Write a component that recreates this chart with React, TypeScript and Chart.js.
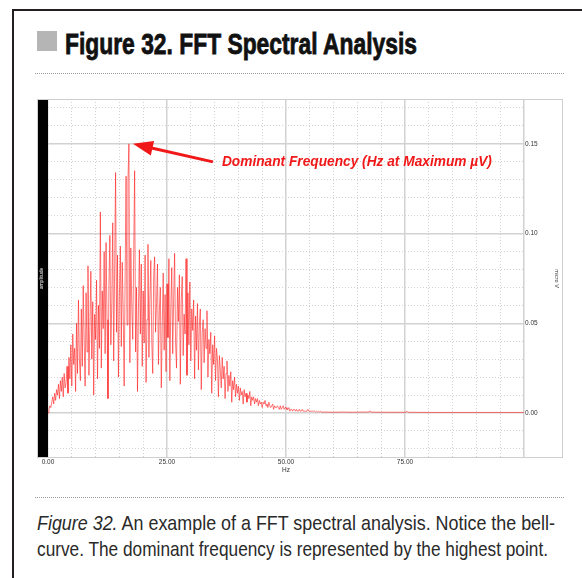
import React, { useEffect, useLayoutEffect, useRef } from "react";
import { Chart, registerables } from "chart.js";

Chart.register(...registerables);

// ---- data ----
const BIN_WIDTH_HZ = 0.2; // FFT bin spacing of the main spectrum array (0 .. 58 Hz)
const spectrumValues: number[] = [
  0.000, 0.002, 0.004, 0.003, 0.006,
  0.009, 0.005, 0.011, 0.007, 0.013,
  0.010, 0.016, 0.008, 0.018, 0.012,
  0.020, 0.009, 0.022, 0.014, 0.017,
  0.026, 0.011, 0.031, 0.019, 0.038,
  0.015, 0.044, 0.027, 0.036, 0.012,
  0.050, 0.022, 0.063, 0.030, 0.018,
  0.058, 0.026, 0.071, 0.040, 0.015,
  0.067, 0.034, 0.082, 0.021, 0.048,
  0.079, 0.030, 0.062, 0.010, 0.055,
  0.041, 0.074, 0.019, 0.060, 0.036,
  0.112, 0.025, 0.068, 0.047, 0.090,
  0.033, 0.095, 0.052, 0.008, 0.071,
  0.099, 0.038, 0.061, 0.106, 0.029,
  0.080, 0.134, 0.045, 0.088, 0.020,
  0.065, 0.093, 0.037, 0.084, 0.056,
  0.015, 0.076, 0.132, 0.049, 0.129,
  0.150, 0.028, 0.092, 0.060, 0.041,
  0.087, 0.135, 0.034, 0.070, 0.012,
  0.058, 0.091, 0.044, 0.083, 0.026,
  0.068, 0.039, 0.088, 0.017, 0.052,
  0.094, 0.031, 0.063, 0.085, 0.040,
  0.022, 0.076, 0.087, 0.045, 0.061,
  0.083, 0.027, 0.057, 0.070, 0.014,
  0.048, 0.078, 0.035, 0.066, 0.023,
  0.072, 0.042, 0.086, 0.018, 0.059,
  0.081, 0.033, 0.064, 0.089, 0.039,
  0.025, 0.070, 0.051, 0.077, 0.016,
  0.063, 0.076, 0.032, 0.055, 0.044,
  0.086, 0.021, 0.067, 0.038, 0.073,
  0.029, 0.058, 0.046, 0.063, 0.019,
  0.054, 0.035, 0.061, 0.024, 0.049,
  0.058, 0.013, 0.045, 0.052, 0.028,
  0.047, 0.036, 0.057, 0.020, 0.041,
  0.033, 0.045, 0.011, 0.038, 0.027,
  0.043, 0.018, 0.036, 0.030, 0.009,
  0.032, 0.024, 0.014, 0.031, 0.019,
  0.026, 0.008, 0.022, 0.029, 0.012,
  0.021, 0.015, 0.023, 0.006, 0.018,
  0.013, 0.020, 0.009, 0.016, 0.011,
  0.015, 0.007, 0.014, 0.010, 0.012,
  0.005, 0.013, 0.009, 0.011, 0.006,
  0.010, 0.008, 0.012, 0.004, 0.009,
  0.007, 0.009, 0.005, 0.008, 0.006,
  0.008, 0.004, 0.007, 0.005, 0.006,
  0.003, 0.006, 0.005, 0.007, 0.004,
  0.005, 0.003, 0.006, 0.004, 0.003,
  0.004, 0.005, 0.002, 0.004, 0.003,
  0.003, 0.004, 0.003, 0.002, 0.004,
  0.002, 0.003, 0.004, 0.002, 0.003,
  0.003, 0.002, 0.002, 0.003, 0.001,
  0.002, 0.002, 0.001, 0.002, 0.002,
  0.001, 0.002, 0.001, 0.001, 0.002,
  0.001, 0.001, 0.002, 0.001, 0.001,
  0.001, 0.001, 0.001, 0.002, 0.001,
  0.001, 0.001, 0.001, 0.001, 0.001,
  0.001, 0.0005, 0.001, 0.0005, 0.001,
  0.0005, 0.001, 0.0005, 0.0005, 0.0005,
  0.0005,
];
const tailHz: number[] = [60, 62, 64, 66, 67.4, 67.6, 67.8, 70, 72, 74, 75.2, 75.4, 75.6, 80, 85, 90, 95, 100];
const tailValues: number[] = [0.0004, 0.0005, 0.0004, 0.0005, 0.0005, 0.0012, 0.0005, 0.0004, 0.0004, 0.0004, 0.0004, 0.001, 0.0004, 0.0003, 0.0003, 0.0003, 0.0003, 0.0003];

const xTickValues = [0, 25, 50, 75];
const xTickLabels = ["0.00", "25.00", "50.00", "75.00"];
const yTickValues = [0, 0.05, 0.1, 0.15];
const yTickLabels = ["0.00", "0.05", "0.10", "0.15"];

const X_MIN = 0;
const X_MAX = 100;
const Y_MIN = -0.0251;
const Y_MAX = 0.175;

const ANNOTATION_TEXT = "Dominant Frequency (Hz at Maximum \u00b5V)";
const RED = "#f01818";

const GRID_COLOR = "#d2d2d2";
const isMultiple = (v: number, step: number) => Math.abs(v / step - Math.round(v / step)) < 1e-6;

const dominantArrow = {
  id: "dominantArrow",
  afterDatasetsDraw(chart: any) {
    const pts = chart.data.datasets[0].data as { x: number; y: number }[];
    let best = pts[0];
    for (const p of pts) if (p.y > best.y) best = p;
    const px = chart.scales.x.getPixelForValue(best.x);
    const py = chart.scales.y.getPixelForValue(best.y);
    const ctx = chart.ctx as CanvasRenderingContext2D;
    const tipX = px + 4, tipY = py;
    const tailX = px + 84, tailY = py + 18;
    const ang = Math.atan2(tipY - tailY, tipX - tailX);
    const headLen = 20, headHalf = 7.5;
    const baseX = tipX - headLen * Math.cos(ang);
    const baseY = tipY - headLen * Math.sin(ang);
    ctx.save();
    ctx.strokeStyle = RED;
    ctx.fillStyle = RED;
    ctx.lineWidth = 3;
    ctx.beginPath();
    ctx.moveTo(tailX, tailY);
    ctx.lineTo(baseX + 2 * Math.cos(ang), baseY + 2 * Math.sin(ang));
    ctx.stroke();
    ctx.beginPath();
    ctx.moveTo(tipX, tipY);
    ctx.lineTo(baseX + headHalf * Math.sin(ang), baseY - headHalf * Math.cos(ang));
    ctx.lineTo(baseX - headHalf * Math.sin(ang), baseY + headHalf * Math.cos(ang));
    ctx.closePath();
    ctx.fill();
    ctx.font = 'italic bold 15px "Liberation Sans", Arial, sans-serif';
    ctx.textBaseline = "alphabetic";
    ctx.textAlign = "left";
    const w = ctx.measureText(ANNOTATION_TEXT).width;
    ctx.translate(px + 93, py + 22);
    ctx.scale(270 / w, 1);
    ctx.fillText(ANNOTATION_TEXT, 0, 0);
    ctx.restore();
  },
};

const boxBorder = {
  id: "boxBorder",
  afterDraw(chart: any) {
    const { ctx, chartArea, width } = chart;
    ctx.save();
    ctx.strokeStyle = "#cfcfcf";
    ctx.lineWidth = 1;
    ctx.strokeRect(0.5, chartArea.top + 0.5, width - 1, chartArea.bottom - chartArea.top - 1);
    ctx.restore();
  },
};

function FFTChart() {
  const ref = useRef<HTMLCanvasElement>(null);
  useEffect(() => {
    if (!ref.current) return;
    const points = spectrumValues
      .map((v, i) => ({ x: Math.round(i * BIN_WIDTH_HZ * 10) / 10, y: v }))
      .concat(tailHz.map((h, i) => ({ x: h, y: tailValues[i] })));
    const tickFont = { size: 6.5, family: '"Liberation Sans", Arial, sans-serif' };
    const chart = new Chart(ref.current, {
      type: "line",
      data: {
        datasets: [
          {
            data: points,
            borderColor: "rgba(255,30,30,0.6)",
            borderWidth: 1,
            pointRadius: 0,
            tension: 0,
            fill: false,
            xAxisID: "x",
            yAxisID: "y",
          },
        ],
      },
      options: {
        animation: false,
        responsive: false,
        maintainAspectRatio: false,
        layout: { padding: 0 },
        plugins: { legend: { display: false }, tooltip: { enabled: false }, title: { display: false } },
        scales: {
          x: {
            type: "linear",
            position: "bottom",
            min: X_MIN,
            max: X_MAX,
            ticks: {
              stepSize: 5,
              maxTicksLimit: 100,
              autoSkip: false,
              maxRotation: 0,
              minRotation: 0,
              padding: 0,
              color: "#333",
              font: tickFont,
              callback: (v: any) => {
                const idx = xTickValues.findIndex((t) => Math.abs(t - v) < 1e-6);
                return idx >= 0 ? xTickLabels[idx] : "";
              },
            },
            grid: {
              drawTicks: false,
              color: GRID_COLOR,
              lineWidth: (c: any) => (c.tick && isMultiple(c.tick.value, 25) ? 1.5 : 1),
            },
            border: {
              display: false,
              dash: (c: any) => (c.tick && isMultiple(c.tick.value, 25) ? [] : [1, 2]),
            },
            title: { display: true, text: "Hz", color: "#333", font: tickFont, padding: 0 },
            afterFit: (s: any) => {
              s.height = 16;
              s.paddingLeft = 0;
              s.paddingRight = 0;
            },
          },
          y: {
            type: "linear",
            position: "right",
            min: Y_MIN,
            max: Y_MAX,
            ticks: {
              stepSize: 0.01,
              maxTicksLimit: 100,
              includeBounds: false,
              autoSkip: false,
              padding: 1,
              color: "#333",
              font: tickFont,
              callback: (v: any) => {
                const idx = yTickValues.findIndex((t) => Math.abs(t - v) < 1e-6);
                return idx >= 0 ? yTickLabels[idx] : "";
              },
            },
            grid: {
              drawTicks: false,
              color: GRID_COLOR,
              lineWidth: (c: any) => (c.tick && isMultiple(c.tick.value, 0.05) ? 1.5 : 1),
            },
            border: {
              display: false,
              dash: (c: any) => (c.tick && isMultiple(c.tick.value, 0.05) ? [] : [1, 2]),
            },
            title: {
              display: true,
              text: "micro V",
              color: "#333",
              font: { size: 5.5, family: '"Liberation Sans", Arial, sans-serif' },
              padding: { top: 3, bottom: 0 },
            },
            afterFit: (s: any) => {
              s.width = 39;
              s.paddingTop = 0;
              s.paddingBottom = 0;
            },
          },
          yl: {
            type: "linear",
            position: "left",
            min: 0,
            max: 1,
            backgroundColor: "#000",
            ticks: { display: false },
            grid: { display: false, drawTicks: false },
            border: { display: false },
            title: {
              display: true,
              text: "amplitude",
              color: "#e8e8e8",
              font: { size: 5, family: '"Liberation Sans", Arial, sans-serif' },
              padding: { top: 2, bottom: 2 },
            },
            afterFit: (s: any) => {
              s.width = 11;
              s.paddingTop = 0;
              s.paddingBottom = 0;
            },
          },
        },
      } as any,
      plugins: [dominantArrow, boxBorder],
    });
    return () => chart.destroy();
  }, []);
  return (
    <canvas
      ref={ref}
      width={526}
      height={375}
      style={{ position: "absolute", left: 37, top: 99, width: 526, height: 375 }}
    />
  );
}

function FitText({ width, style, children }: { width: number; style: React.CSSProperties; children: React.ReactNode }) {
  const ref = useRef<HTMLSpanElement>(null);
  useLayoutEffect(() => {
    const el = ref.current;
    if (!el) return;
    el.style.transform = "none";
    const w = el.getBoundingClientRect().width;
    if (w > 0) el.style.transform = `scaleX(${width / w})`;
  }, [width]);
  return (
    <span
      ref={ref}
      style={{
        position: "absolute",
        whiteSpace: "nowrap",
        display: "inline-block",
        transformOrigin: "0 0",
        lineHeight: 1,
        ...style,
      }}
    >
      {children}
    </span>
  );
}

const dotted: React.CSSProperties = {
  position: "absolute",
  height: 1,
  backgroundImage: "repeating-linear-gradient(to right, #9a9a9a 0 1px, transparent 1px 2px)",
};

export default function App() {
  const sans = '"Liberation Sans", Arial, sans-serif';
  return (
    <div
      style={{
        position: "absolute",
        left: 0,
        top: 0,
        width: 582,
        height: 578,
        background: "#fff",
        overflow: "hidden",
        fontFamily: sans,
      }}
    >
      <div style={{ position: "absolute", left: 12, top: 9, width: 570, height: 2, background: "#231f20" }} />
      <div style={{ position: "absolute", left: 12, top: 9, width: 2, height: 569, background: "#231f20" }} />
      <div style={{ position: "absolute", left: 37, top: 31, width: 20, height: 20, background: "#b5b5b5" }} />
      <FitText
        width={352}
        style={{
          left: 65,
          top: 30,
          fontSize: 29,
          fontWeight: 700,
          color: "#111",
          fontFamily: sans,
          WebkitTextStroke: "0.8px #111",
        }}
      >
        Figure 32. FFT Spectral Analysis
      </FitText>
      <div style={{ ...dotted, left: 35, top: 73, width: 530 }} />
      <FFTChart />
      <div style={{ ...dotted, left: 35, top: 497, width: 530 }} />
      <FitText width={518} style={{ left: 37, top: 512, fontSize: 21, color: "#2a2a2a", fontFamily: sans }}>
        <i>Figure 32.</i> An example of a FFT spectral analysis. Notice the bell-
      </FitText>
      <FitText width={511} style={{ left: 37, top: 538, fontSize: 21, color: "#2a2a2a", fontFamily: sans }}>
        curve. The dominant frequency is represented by the highest point.
      </FitText>
    </div>
  );
}
